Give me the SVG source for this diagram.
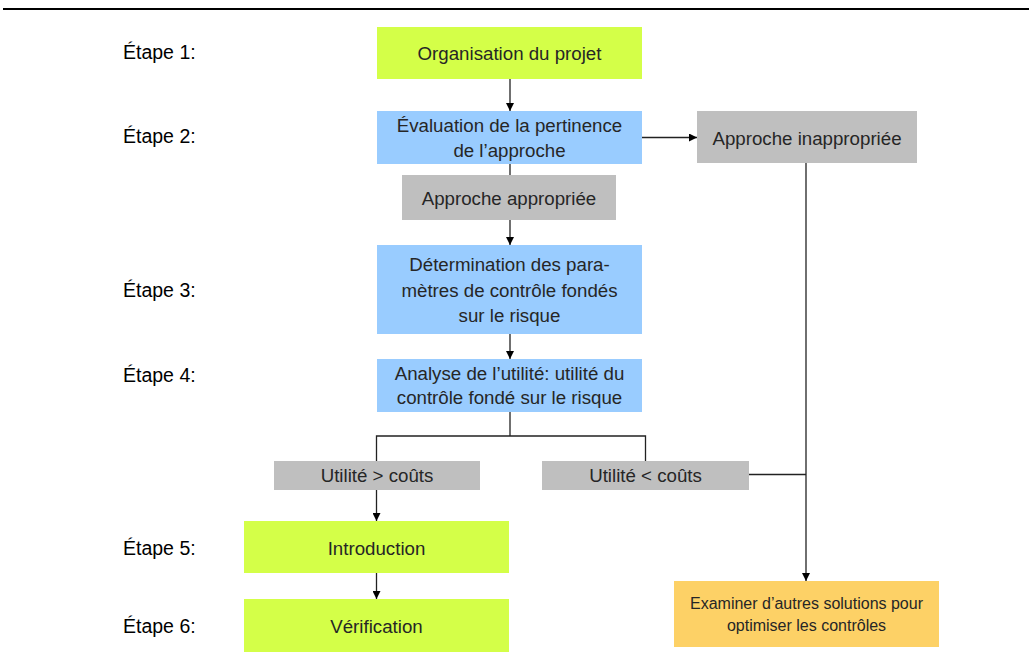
<svg xmlns="http://www.w3.org/2000/svg" width="1029" height="662" viewBox="0 0 1029 662">
<style>
.lime{fill:#D4FF48}
.blue{fill:#99CCFF}
.gray{fill:#BFBFBF}
.orange{fill:#FDD166}
.t{font-family:"Liberation Sans",Arial,sans-serif;font-size:18.7px;fill:#262626;text-anchor:middle}
.ts{font-family:"Liberation Sans",Arial,sans-serif;font-size:16px;fill:#262626;text-anchor:middle}
.lab{font-family:"Liberation Sans",Arial,sans-serif;font-size:19.5px;fill:#000}
.c{fill:none;stroke:#222;stroke-width:1.3}
</style>
<defs>
<marker id="ah" viewBox="0 0 10 10" refX="10" refY="5" markerWidth="8" markerHeight="8" markerUnits="userSpaceOnUse" orient="auto">
<path d="M0,0 L10,5 L0,10 z" fill="#000"/>
</marker>
</defs>
<rect width="1029" height="662" fill="#fff"/>
<line x1="3" y1="9" x2="1029" y2="9" stroke="#000" stroke-width="2"/>

<g id="labels">
<text class="lab" x="123" y="59">Étape 1:</text>
<text class="lab" x="123" y="143">Étape 2:</text>
<text class="lab" x="123" y="297">Étape 3:</text>
<text class="lab" x="123" y="382">Étape 4:</text>
<text class="lab" x="123" y="555">Étape 5:</text>
<text class="lab" x="123" y="633">Étape 6:</text>
</g>

<g id="connectors">
<line class="c" x1="510" y1="79" x2="510" y2="111" marker-end="url(#ah)"/>
<line class="c" x1="642" y1="137.5" x2="697" y2="137.5" marker-end="url(#ah)"/>
<line class="c" x1="510" y1="164" x2="510" y2="175"/>
<line class="c" x1="510" y1="220" x2="510" y2="245" marker-end="url(#ah)"/>
<line class="c" x1="510" y1="334" x2="510" y2="359" marker-end="url(#ah)"/>
<polyline class="c" points="510,412 510,436"/>
<polyline class="c" points="376.5,461 376.5,436 645.5,436 645.5,461"/>
<line class="c" x1="376.5" y1="490" x2="376.5" y2="521" marker-end="url(#ah)"/>
<line class="c" x1="376.5" y1="573" x2="376.5" y2="599" marker-end="url(#ah)"/>
<line class="c" x1="806" y1="163" x2="806" y2="581" marker-end="url(#ah)"/>
<line class="c" x1="749" y1="474.5" x2="806" y2="474.5"/>
</g>

<g id="n1">
<rect class="lime" x="377" y="27" width="265" height="52"/>
<text class="t" x="509.5" y="60">Organisation du projet</text>
</g>
<g id="n2">
<rect class="blue" x="377" y="111" width="265" height="53"/>
<text class="t" x="509.5" y="132">Évaluation de la pertinence</text>
<text class="t" x="509.5" y="157">de l’approche</text>
</g>
<g id="n3">
<rect class="gray" x="402" y="175" width="214" height="45"/>
<text class="t" x="509" y="205">Approche appropriée</text>
</g>
<g id="n4">
<rect class="gray" x="697" y="111" width="220" height="52"/>
<text class="t" x="807" y="145">Approche inappropriée</text>
</g>
<g id="n5">
<rect class="blue" x="377" y="245" width="265" height="89"/>
<text class="t" x="509.5" y="271">Détermination des para-</text>
<text class="t" x="509.5" y="297">mètres de contrôle fondés</text>
<text class="t" x="509.5" y="322">sur le risque</text>
</g>
<g id="n6">
<rect class="blue" x="377" y="359" width="265" height="53"/>
<text class="t" x="509.5" y="380">Analyse de l’utilité: utilité du</text>
<text class="t" x="509.5" y="404">contrôle fondé sur le risque</text>
</g>
<g id="n7">
<rect class="gray" x="274" y="461" width="206" height="29"/>
<text class="t" x="377" y="482">Utilité &gt; coûts</text>
</g>
<g id="n8">
<rect class="gray" x="542" y="461" width="207" height="29"/>
<text class="t" x="645.5" y="482">Utilité &lt; coûts</text>
</g>
<g id="n9">
<rect class="lime" x="244" y="521" width="265" height="52"/>
<text class="t" x="376.5" y="555">Introduction</text>
</g>
<g id="n10">
<rect class="lime" x="244" y="599" width="265" height="53"/>
<text class="t" x="376.5" y="633">Vérification</text>
</g>
<g id="n11">
<rect class="orange" x="674" y="581" width="265" height="66"/>
<text class="ts" x="806.5" y="609">Examiner d’autres solutions pour</text>
<text class="ts" x="806.5" y="631">optimiser les contrôles</text>
</g>
</svg>
